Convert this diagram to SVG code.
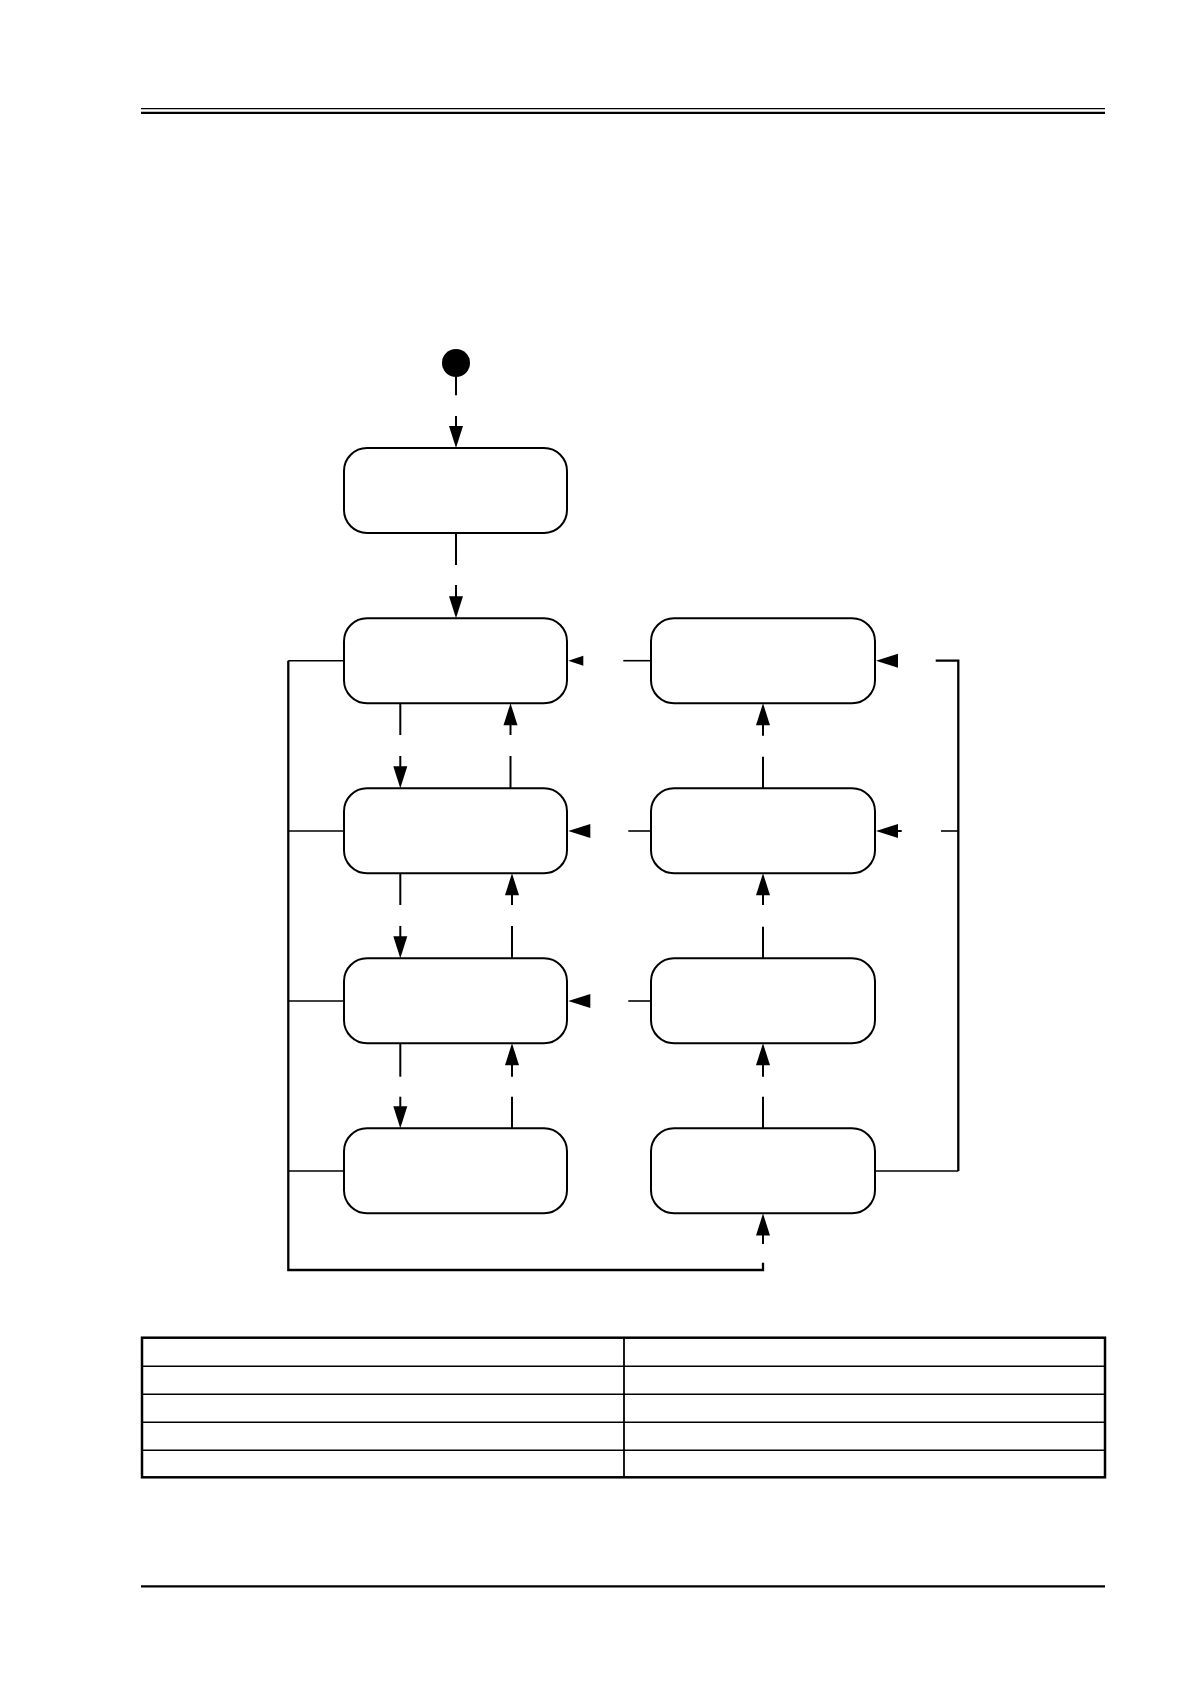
<svg xmlns="http://www.w3.org/2000/svg" xmlns:xlink="http://www.w3.org/1999/xlink" width="1190" height="1684" viewBox="0 0 1190 1684">
<style>
.box{fill:#fff;stroke:#000;stroke-width:2}
.ln{fill:none;stroke:#000;stroke-width:2}
.th{fill:none;stroke:#000;stroke-width:1.6}
.bus{fill:none;stroke:#000;stroke-width:2.3}
.hd{fill:#000;stroke:none}
.rule{stroke:#000;fill:none}
</style>
<defs>
<path id="ah" d="M0,0 L-22,-7 L-22,7 Z"/>
<path id="ahs" d="M0,0 L-15,-5 L-15,5 Z"/>
</defs>
<rect width="1190" height="1684" fill="#fff"/>
<g id="header">
<line class="rule" x1="141" y1="108.7" x2="1105" y2="108.7" stroke-width="1.2"/>
<line class="rule" x1="141" y1="112.8" x2="1105" y2="112.8" stroke-width="2.2"/>
</g>
<g id="nodes">
<g id="start"><circle cx="456" cy="363" r="14" fill="#000"/></g>
<g id="s1"><rect class="box" x="344" y="448" width="223" height="85" rx="23"/></g>
<g id="L2"><rect class="box" x="344" y="618.3" width="223" height="85" rx="23"/></g>
<g id="L3"><rect class="box" x="344" y="788.3" width="223" height="85" rx="23"/></g>
<g id="L4"><rect class="box" x="344" y="958.3" width="223" height="85" rx="23"/></g>
<g id="L5"><rect class="box" x="344" y="1128.3" width="223" height="85" rx="23"/></g>
<g id="R2"><rect class="box" x="651" y="618.3" width="224" height="85" rx="23"/></g>
<g id="R3"><rect class="box" x="651" y="788.3" width="224" height="85" rx="23"/></g>
<g id="R4"><rect class="box" x="651" y="958.3" width="224" height="85" rx="23"/></g>
<g id="R5"><rect class="box" x="651" y="1128.3" width="224" height="85" rx="23"/></g>
</g>
<g id="connectors">
<line class="ln" x1="456" y1="377" x2="456" y2="395.3"/>
<line class="ln" x1="456" y1="416" x2="456" y2="427"/>
<use href="#ah" xlink:href="#ah" class="hd" transform="translate(456,448) rotate(90)"/>
<line class="ln" x1="456" y1="533" x2="456" y2="565"/>
<line class="ln" x1="456" y1="585" x2="456" y2="597"/>
<use href="#ah" xlink:href="#ah" class="hd" transform="translate(456,618.3) rotate(90)"/>
<line class="ln" x1="400.3" y1="703" x2="400.3" y2="735"/>
<line class="ln" x1="400.3" y1="756" x2="400.3" y2="767"/>
<use href="#ah" xlink:href="#ah" class="hd" transform="translate(400.3,788.3) rotate(90)"/>
<line class="ln" x1="510.5" y1="788.3" x2="510.5" y2="756"/>
<line class="ln" x1="510.5" y1="735" x2="510.5" y2="724"/>
<use href="#ah" xlink:href="#ah" class="hd" transform="translate(510.5,703.3) rotate(-90)"/>
<line class="ln" x1="400.3" y1="873" x2="400.3" y2="905"/>
<line class="ln" x1="400.3" y1="926" x2="400.3" y2="937"/>
<use href="#ah" xlink:href="#ah" class="hd" transform="translate(400.3,958.3) rotate(90)"/>
<line class="ln" x1="512" y1="958.3" x2="512" y2="926"/>
<line class="ln" x1="512" y1="905" x2="512" y2="894"/>
<use href="#ah" xlink:href="#ah" class="hd" transform="translate(512,873.3) rotate(-90)"/>
<line class="ln" x1="400.3" y1="1043" x2="400.3" y2="1076.7"/>
<line class="ln" x1="400.3" y1="1096.7" x2="400.3" y2="1107"/>
<use href="#ah" xlink:href="#ah" class="hd" transform="translate(400.3,1128.3) rotate(90)"/>
<line class="ln" x1="512" y1="1128.3" x2="512" y2="1096.7"/>
<line class="ln" x1="512" y1="1076.7" x2="512" y2="1064"/>
<use href="#ah" xlink:href="#ah" class="hd" transform="translate(512,1043.3) rotate(-90)"/>
<line class="ln" x1="763" y1="788.3" x2="763" y2="756.7"/>
<line class="ln" x1="763" y1="735.7" x2="763" y2="724"/>
<use href="#ah" xlink:href="#ah" class="hd" transform="translate(763,703.3) rotate(-90)"/>
<line class="ln" x1="763" y1="958.3" x2="763" y2="926.7"/>
<line class="ln" x1="763" y1="905" x2="763" y2="894"/>
<use href="#ah" xlink:href="#ah" class="hd" transform="translate(763,873.3) rotate(-90)"/>
<line class="ln" x1="763" y1="1128.3" x2="763" y2="1096.7"/>
<line class="ln" x1="763" y1="1076.7" x2="763" y2="1064"/>
<use href="#ah" xlink:href="#ah" class="hd" transform="translate(763,1043.3) rotate(-90)"/>
<line class="th" x1="623.3" y1="660.7" x2="651" y2="660.7"/>
<use href="#ahs" xlink:href="#ahs" class="hd" transform="translate(568.3,660.7) rotate(180)"/>
<line class="th" x1="628.3" y1="831" x2="651" y2="831"/>
<use href="#ah" xlink:href="#ah" class="hd" transform="translate(568.3,831) rotate(180)"/>
<line class="th" x1="628.3" y1="1001" x2="651" y2="1001"/>
<use href="#ah" xlink:href="#ah" class="hd" transform="translate(568.3,1001) rotate(180)"/>
<path class="bus" d="M288.3,660.7 V1270 H763 V1262.7"/>
<line class="th" x1="288.3" y1="660.7" x2="344" y2="660.7"/>
<line class="th" x1="288.3" y1="831" x2="344" y2="831"/>
<line class="th" x1="288.3" y1="1001" x2="344" y2="1001"/>
<line class="th" x1="288.3" y1="1171" x2="344" y2="1171"/>
<line class="ln" x1="763" y1="1244" x2="763" y2="1234"/>
<use href="#ah" xlink:href="#ah" class="hd" transform="translate(763,1213.5) rotate(-90)"/>
<path class="th" d="M875,1171 H958.3"/>
<path class="bus" d="M935.7,660.7 H958.3 V1171"/>
<line class="th" x1="941" y1="831" x2="958.3" y2="831"/>
<use href="#ah" xlink:href="#ah" class="hd" transform="translate(876,660.7) rotate(180)"/>
<line class="ln" x1="895" y1="831" x2="901.7" y2="831"/>
<use href="#ah" xlink:href="#ah" class="hd" transform="translate(876,831) rotate(180)"/>
</g>
<g id="table">
<line class="rule" x1="142" y1="1366.3" x2="1105" y2="1366.3" stroke-width="1.5"/>
<line class="rule" x1="142" y1="1394.3" x2="1105" y2="1394.3" stroke-width="1.5"/>
<line class="rule" x1="142" y1="1422.3" x2="1105" y2="1422.3" stroke-width="1.5"/>
<line class="rule" x1="142" y1="1450.3" x2="1105" y2="1450.3" stroke-width="1.5"/>
<line class="rule" x1="624" y1="1337.7" x2="624" y2="1477.3" stroke-width="1.8"/>
<rect class="rule" x="142" y="1337.7" width="963" height="139.6" stroke-width="2.5"/>
</g>
<g id="footer">
<line class="rule" x1="141" y1="1586.3" x2="1105" y2="1586.3" stroke-width="2.2"/>
</g>
</svg>
